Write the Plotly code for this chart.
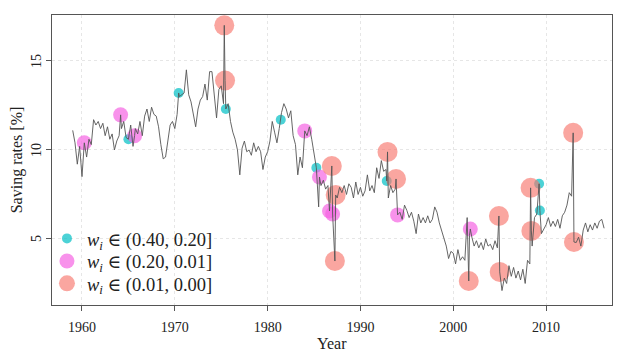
import plotly.graph_objects as go
import pandas as pd

# quarterly saving rate [%], 1959Q1 .. 2016Q2
rate = [
    11.1, 10.4, 9.2, 10.2,   # 1959
    8.5, 10.4, 9.6, 10.6,    # 1960
    10.3, 11.7, 11.4, 11.6,  # 1961
    11.2, 11.5, 10.8, 11.3,  # 1962
    10.6, 10.9, 10.0, 10.5,  # 1963
    10.8, 11.2, 11.6, 10.7,  # 1964
    10.6, 11.4, 10.2, 11.2,  # 1965
    10.9, 11.6, 10.8, 11.9,  # 1966
    12.3, 11.6, 12.4, 12.0,  # 1967
    11.9, 11.3, 10.3, 9.5,   # 1968
    9.6, 10.6, 11.4, 11.6,   # 1969
    11.2, 12.0, 13.0, 13.1,  # 1970
    13.2, 14.5, 13.1, 12.7,  # 1971
    11.9, 11.3, 12.3, 12.8,  # 1972
    13.0, 13.7, 12.8, 14.4,  # 1973
    14.4, 13.1, 11.8, 13.4,  # 1974
    13.6, 12.6, 12.3, 12.6,  # 1975
    11.6, 11.0, 10.6, 10.0,  # 1976
    8.6, 10.1, 10.5, 9.9,    # 1977
    10.0, 9.7, 10.4, 9.9,    # 1978
    10.2, 9.9, 8.9, 9.6,     # 1979
    9.9, 10.5, 11.6, 11.0,   # 1980
    10.4, 11.2, 12.1, 12.6,  # 1981
    12.3, 11.8, 12.2, 10.8,  # 1982
    10.3, 8.6, 9.6, 9.0,     # 1983
    11.1, 10.8, 11.3, 10.6,  # 1984
    9.9, 9.0, 6.8, 8.0,      # 1985
    8.3, 7.8, 8.0, 7.3,      # 1986
    6.4, 3.8, 7.3, 7.9,      # 1987
    7.6, 8.0, 7.5, 8.1,      # 1988
    7.9, 7.3, 8.2, 7.5,      # 1989
    7.9, 7.4, 7.7, 8.6,      # 1990
    7.7, 8.0, 7.6, 9.0,      # 1991
    8.4, 9.4, 8.8, 8.9,      # 1992
    7.3, 8.0, 7.6, 7.8,      # 1993
    6.4, 6.5, 6.1, 6.9,      # 1994
    6.6, 6.2, 6.5, 6.0,      # 1995
    5.3, 6.4, 5.9, 6.2,      # 1996
    5.9, 6.3, 5.9, 6.1,      # 1997
    6.8, 6.5, 5.9, 5.5,      # 1998
    5.1, 4.6, 3.9, 4.3,      # 1999
    4.2, 3.6, 4.4, 3.8,      # 2000
    4.0, 3.8, 6.2, 5.2,      # 2001
    5.1, 4.6, 4.9, 4.5,      # 2002
    4.8, 4.4, 5.0, 4.6,      # 2003
    4.7, 4.4, 4.9, 4.5,      # 2004
    3.2, 2.1, 2.8, 2.5,      # 2005
    3.5, 2.9, 3.4, 2.8,      # 2006
    3.2, 2.7, 3.3, 2.5,      # 2007
    3.8, 3.6, 4.6, 6.2,      # 2008
    6.4, 8.1, 5.3, 5.6,      # 2009
    5.8, 6.2, 5.7, 6.0,      # 2010
    5.7, 6.1, 5.6, 6.3,      # 2011
    6.5, 6.9, 7.6, 7.4,      # 2012
    4.8, 4.8, 5.1, 4.6,      # 2013
    5.5, 5.9, 5.4, 5.8,      # 2014
    5.5, 5.9, 5.6, 6.0,      # 2015
    6.1, 5.6,                # 2016
]

# observations flagged by weight class
hi_dates = ["1965-01", "1970-06", "1975-07", "1981-06", "1985-04", "1992-11", "2009-04", "2009-05"]
hi_vals = [10.6, 13.2, 12.3, 11.7, 9.0, 8.26, 8.1, 6.6]

mid_dates = ["1960-04", "1964-03", "1965-09", "1984-01", "1985-08", "1986-09", "1987-01", "1994-01", "2001-11"]
mid_vals = [10.4, 11.97, 10.8, 11.07, 8.48, 6.57, 6.4, 6.35, 5.56]

lo_dates = ["1975-05", "1975-06", "1986-12", "1987-04", "1987-05", "1992-12", "1993-11",
            "2001-09", "2004-12", "2005-01", "2008-05", "2008-06", "2012-12", "2013-01"]
lo_vals = [17.0, 13.9, 9.1, 3.76, 7.47, 9.89, 8.37, 2.64, 6.29, 3.15, 7.87, 5.45, 10.96, 4.83]

labels = [
    "<i>w<sub>i</sub></i> ∈ (0.40, 0.20]",
    "<i>w<sub>i</sub></i> ∈ (0.20, 0.01]",
    "<i>w<sub>i</sub></i> ∈ (0.01, 0.00]",
]

y_ticks = [5, 10, 15]

SERIF = "Liberation Serif, Times New Roman, DejaVu Serif, serif"

series = pd.Series(rate, index=pd.date_range("1959-01-01", periods=len(rate), freq="QS"))
for d, v in zip(hi_dates + mid_dates + lo_dates, hi_vals + mid_vals + lo_vals):
    series[pd.Timestamp(d + "-01")] = v
series = series.sort_index()

fig = go.Figure()

# one legend per class so the rows can sit as tight as in the original
groups = [
    (hi_dates, hi_vals, "rgba(0,191,196,0.7)", 10, labels[0], "legend", 0.228),
    (mid_dates, mid_vals, "rgba(245,100,227,0.7)", 15, labels[1], "legend2", 0.150),
    (lo_dates, lo_vals, "rgba(248,118,109,0.65)", 20, labels[2], "legend3", 0.073),
]
legends = {}
for dates, vals, col, size, name, leg, ly in groups:
    fig.add_trace(go.Scatter(
        x=pd.to_datetime(dates), y=vals, mode="markers", name=name, legend=leg,
        marker=dict(color=col, size=size, line=dict(width=0)),
    ))
    legends[leg] = dict(
        x=-0.009, y=ly, xanchor="left", yanchor="middle",
        bgcolor="rgba(255,255,255,0)", font=dict(family=SERIF, size=18.5, color="#222222"),
        itemsizing="trace",
    )

fig.add_trace(go.Scatter(
    x=series.index, y=series.values, mode="lines", showlegend=False,
    line=dict(color="#555555", width=0.9),
))

axis_common = dict(
    showline=True, mirror=True, linecolor="#555555", linewidth=1,
    ticks="outside", ticklen=5, tickcolor="#555555",
    showgrid=True, gridcolor="#e6e6e6", griddash="dot", gridwidth=1,
    zeroline=False, automargin=False,
)

# y tick labels rotated like base R (las=0)
for v in y_ticks:
    fig.add_annotation(
        x=0, xref="paper", y=v, yref="y", text=str(v), showarrow=False,
        textangle=-90, xanchor="center", yanchor="middle", xshift=-15,
        font=dict(family=SERIF, size=14, color="#222222"),
    )

fig.add_annotation(
    x=0.5, xref="paper", y=0, yref="paper", text="Year", showarrow=False,
    xanchor="center", yanchor="middle", yshift=-38,
    font=dict(family=SERIF, size=16, color="#222222"),
)

fig.update_layout(
    width=619, height=350,
    margin=dict(l=44, r=15, t=7, b=53, autoexpand=False),
    paper_bgcolor="white", plot_bgcolor="white",
    font=dict(family=SERIF, size=14, color="#222222"),
    showlegend=True,
    legend=legends["legend"], legend2=legends["legend2"], legend3=legends["legend3"],
    xaxis=dict(
        axis_common, range=["1956-10-08", "2017-02-06"],
        tick0="1960-01-01", dtick="M120", tickformat="%Y",
        tickfont=dict(family=SERIF, size=14), ticklabelstandoff=4,
    ),
    yaxis=dict(
        axis_common, range=[1.29, 17.58],
        tickvals=y_ticks, showticklabels=False,
        title=dict(text="Saving rates [%]", font=dict(family=SERIF, size=16), standoff=22),
    ),
)

fig.write_html("out.html")
